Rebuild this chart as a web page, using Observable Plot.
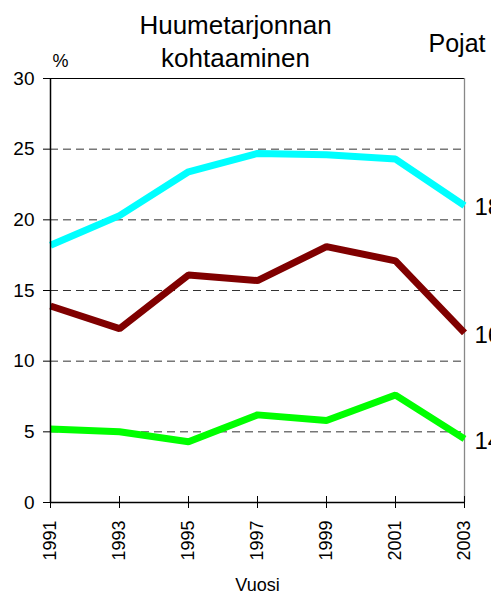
<!DOCTYPE html>
<html>
<head>
<meta charset="utf-8">
<script src="https://cdn.jsdelivr.net/npm/d3@7"></script>
<script src="https://cdn.jsdelivr.net/npm/@observablehq/plot@0.6"></script>
<style>
  html, body { margin: 0; padding: 0; background: #fff; }
  body { width: 491px; height: 602px; overflow: hidden; }
</style>
</head>
<body>
<div id="chart"></div>
<script>
const years = [1991, 1993, 1995, 1997, 1999, 2001, 2003];
const ages = ["18", "16", "14"];
const age18 = [18.2, 20.3, 23.4, 24.7, 24.6, 24.3, 21.0];
const age16 = [13.9, 12.3, 16.1, 15.7, 18.1, 17.1, 12.0];
const age14 = [5.2, 5.0, 4.3, 6.2, 5.8, 7.6, 4.5];
const yTicks = [0, 5, 10, 15, 20, 25, 30];
const gridValues = [5, 10, 15, 20, 25];
const titleText = "Huumetarjonnan\nkohtaaminen";
const unitText = "%";
const groupText = "Pojat";
const xLabel = "Vuosi";
const colors = ["#00ffff", "#800000", "#00ff00"];

const seriesValues = [age18, age16, age14];
const rows = [];
ages.forEach((a, i) => years.forEach((yr, j) => rows.push({age: a, year: yr, value: seriesValues[i][j]})));
const ends = ages.map((a, i) => ({age: a, year: years[years.length - 1], value: seriesValues[i][years.length - 1]}));

const font = "Liberation Sans, Arial, Helvetica, sans-serif";

const chart = Plot.plot({
  width: 491,
  height: 602,
  marginTop: 78,
  marginBottom: 100,
  marginLeft: 50,
  marginRight: 27,
  style: {fontFamily: font, background: "#fff", color: "#000", overflow: "visible"},
  x: {domain: [1991, 2003]},
  y: {domain: [0, 30]},
  color: {domain: ages, range: colors},
  marks: [
    Plot.ruleY(gridValues, {stroke: "#333", strokeWidth: 1, strokeDasharray: "8,5"}),
    Plot.ruleY([30], {stroke: "#000", strokeWidth: 1}),
    Plot.ruleX([2003], {stroke: "#888", strokeWidth: 1.3}),
    Plot.line(rows, {x: "year", y: "value", z: "age", stroke: "age", strokeWidth: 7, strokeLinejoin: "miter", strokeLinecap: "butt"}),
    Plot.ruleX([1991], {stroke: "#000", strokeWidth: 1.5}),
    Plot.ruleY([0], {stroke: "#000", strokeWidth: 1.5}),
    Plot.axisY({ticks: yTicks, tickSize: 7, tickPadding: 9, fontSize: 19, label: null, stroke: "#000"}),
    Plot.axisX({ticks: years, tickSize: 12, dy: -6, text: null, label: null, stroke: "#000"}),
    Plot.axisX({ticks: years, tickSize: 0, tickPadding: 18, tickRotate: -90, tickFormat: d => String(d), fontSize: 18, label: null}),
    Plot.text(ends, {x: "year", y: "value", text: "age", dx: 10, dy: 2, textAnchor: "start", fontSize: 24, fill: "#000", clip: false}),
    Plot.text([xLabel], {frameAnchor: "bottom", dy: 88, fontSize: 18, fill: "#000"}),
    Plot.text([titleText], {frameAnchor: "top", dx: -22, dy: -12, lineAnchor: "bottom", lineHeight: 1.25, fontSize: 26, fill: "#000"}),
    Plot.text([unitText], {frameAnchor: "top-left", dx: 10, dy: -17, lineAnchor: "middle", textAnchor: "middle", fontSize: 18, fill: "#000"}),
    Plot.text([groupText], {frameAnchor: "top-right", dx: -36, dy: -35, lineAnchor: "middle", textAnchor: "start", fontSize: 25, fill: "#000"})
  ]
});
document.getElementById("chart").appendChild(chart);
</script>
</body>
</html>
